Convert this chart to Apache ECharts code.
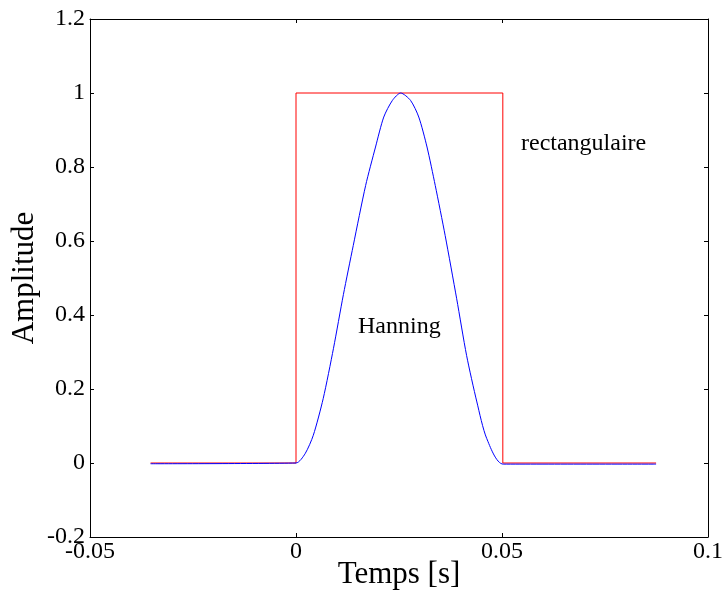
<!DOCTYPE html>
<html lang="fr">
<head>
    <meta charset="UTF-8">
    <title>Fenêtres</title>
    <script type="text/javascript" src="https://cdn.jsdelivr.net/npm/echarts@6/dist/echarts.min.js"></script>
</head>
<body style="margin:0">
    <div id="main" style="width: 722px;height:597px;"></div>
    <script type="text/javascript">

        // fenêtre rectangulaire (x, y)
        var rectX = [-0.0353, 0, 0, 0.0502, 0.0502, 0.0874];
        var rectY = [0, 0, 1, 1, 0, 0];

        // fenêtre de Hanning
        var hannX = [-0.0353, 0, 0.0022, 0.0042, 0.0066, 0.0091, 0.0115, 0.0139, 0.0169, 0.0193, 0.0213, 0.0234,
                     0.0254, 0.0278, 0.0298, 0.0318, 0.0338, 0.0362, 0.039, 0.0414, 0.0439, 0.0463, 0.0503, 0.0874];
        var hannY = [-0.002, 0, 0.025, 0.075, 0.174, 0.31, 0.455, 0.588, 0.75, 0.854, 0.935, 0.98,
                     1, 0.98, 0.935, 0.854, 0.75, 0.615, 0.444, 0.291, 0.165, 0.066, -0.003, -0.003];

        function pairs(xs, ys) {
            return xs.map(function (x, i) { return [x, ys[i]]; });
        }

        var font = 'Liberation Serif';
        var myChart = echarts.init(document.getElementById('main'));

        var option = {
            animation: false,
            backgroundColor: '#fff',
            grid: { left: 90, right: 14, top: 19, bottom: 60, outerBoundsMode: 'none' },
            xAxis: [{
                type: 'value',
                min: -0.05, max: 0.1, interval: 0.05,
                name: 'Temps [s]',
                nameLocation: 'middle',
                nameGap: 22,
                nameMoveOverlap: false,
                nameTextStyle: { fontFamily: font, fontSize: 31, color: '#000' },
                axisLine: { onZero: false, lineStyle: { color: '#000', width: 1 } },
                axisTick: { inside: true, length: 4, lineStyle: { color: '#000' } },
                axisLabel: { fontFamily: font, fontSize: 24, color: '#000', margin: 3 },
                splitLine: { show: false }
            }, {
                type: 'value', position: 'top',
                min: -0.05, max: 0.1, interval: 0.05,
                axisLine: { onZero: false, lineStyle: { color: '#000', width: 1 } },
                axisTick: { inside: true, length: 4, lineStyle: { color: '#000' } },
                axisLabel: { show: false },
                splitLine: { show: false }
            }],
            yAxis: [{
                type: 'value',
                min: -0.2, max: 1.2, interval: 0.2,
                name: 'Amplitude',
                nameLocation: 'middle',
                nameGap: 50,
                nameMoveOverlap: false,
                nameTextStyle: { fontFamily: font, fontSize: 31, color: '#000' },
                axisLine: { show: true, onZero: false, lineStyle: { color: '#000', width: 1 } },
                axisTick: { show: true, inside: true, length: 4, lineStyle: { color: '#000' } },
                axisLabel: { fontFamily: font, fontSize: 24, color: '#000', margin: 5 },
                splitLine: { show: false }
            }, {
                type: 'value', position: 'right',
                min: -0.2, max: 1.2, interval: 0.2,
                axisLine: { show: true, onZero: false, lineStyle: { color: '#000', width: 1 } },
                axisTick: { show: true, inside: true, length: 4, lineStyle: { color: '#000' } },
                axisLabel: { show: false },
                splitLine: { show: false }
            }],
            series: [{
                name: 'rectangulaire',
                type: 'line',
                data: pairs(rectX, rectY),
                showSymbol: false,
                lineStyle: { color: '#ff0000', width: 1 }
            }, {
                name: 'Hanning',
                type: 'line',
                data: pairs(hannX, hannY),
                showSymbol: false,
                smooth: 0.25,
                lineStyle: { color: '#0000ff', width: 1 }
            }],
            graphic: [{
                type: 'text', left: 521, top: 132,
                style: { text: 'rectangulaire', font: '24px "Liberation Serif"', fill: '#000' }
            }, {
                type: 'text', left: 358, top: 315,
                style: { text: 'Hanning', font: '24px "Liberation Serif"', fill: '#000' }
            }]
        };

        myChart.setOption(option);
    </script>
</body>
</html>
